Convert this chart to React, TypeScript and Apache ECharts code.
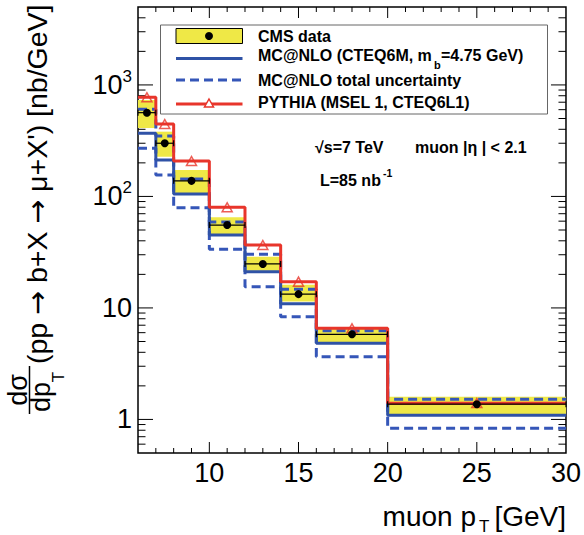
import React, { useEffect, useRef } from "react";
import * as echarts from "echarts";

// ---- data ----
const binEdges = [6, 7, 8, 10, 12, 14, 16, 20, 30];
const binCenters = [6.5, 7.5, 9, 11, 13, 15, 18, 25];
const cmsData = [564, 300, 138, 55.4, 24.8, 13.3, 5.8, 1.37];
const cmsStatErr = [10, 6, 3, 1.2, 0.6, 0.35, 0.15, 0.08];
const cmsSystLow = [411, 227, 107, 46, 21.6, 11.4, 4.88, 1.12];
const cmsSystHigh = [733, 381, 173, 65, 28.8, 16.1, 6.57, 1.6];
const mcnlo = [368, 212, 105, 45, 21.1, 10.9, 4.82, 1.09];
const mcnloUp = [605, 348, 143, 59, 30.3, 14.7, 6.25, 1.52];
const mcnloDown = [270, 156, 79, 33.6, 15.5, 8.35, 3.65, 0.834];
const pythia = [775, 446, 208, 80, 36.7, 17.2, 6.57, 1.4];

// ---- axis ticks ----
const xTickLabels = [10, 15, 20, 25, 30];
const xMajorTicks = [10, 15, 20, 25];
const xMinorTicks = [7, 8, 9, 11, 12, 13, 14, 16, 17, 18, 19, 21, 22, 23, 24, 26, 27, 28, 29];
const yMajorTicks = [1, 10, 100, 1000];
const yMinorTicks = [
  0.6, 0.7, 0.8, 0.9,
  2, 3, 4, 5, 6, 7, 8, 9,
  20, 30, 40, 50, 60, 70, 80, 90,
  200, 300, 400, 500, 600, 700, 800, 900,
  2000, 3000, 4000,
];

const X_MIN = 6;
const X_MAX = 30;
const Y_MIN = 0.5;
const Y_MAX = 5000;

const FONT = "'Liberation Sans', Arial, Helvetica, sans-serif";
const YELLOW = "#efe846";
const BLUE = "#2f52a6";
const BLUE_DASH = "#3556b8";
const RED = "#e8352b";
const LEG_FS = 16;

function stepData(values: number[]) {
  return binEdges.map((e, i) => [e, values[Math.min(i, values.length - 1)]]);
}

export default function App() {
  const ref = useRef<HTMLDivElement>(null);

  useEffect(() => {
    if (!ref.current) return;
    const chart = echarts.init(ref.current, undefined, { renderer: "svg" });

    const line = (x1: number, y1: number, x2: number, y2: number, w = 1) => ({
      type: "line",
      shape: { x1, y1, x2, y2 },
      style: { stroke: "#000", lineWidth: w },
    });

    const txt = (
      x: number,
      y: number,
      text: string,
      fontSize: number,
      opts: { bold?: boolean; align?: string; rotation?: number; family?: string } = {}
    ) => ({
      type: "text",
      z: 102,
      x,
      y,
      rotation: opts.rotation || 0,
      style: {
        text,
        fontSize,
        fontWeight: opts.bold ? "bold" : "normal",
        fontFamily: opts.family || FONT,
        fill: "#000",
        align: opts.align || "left",
        verticalAlign: "middle",
      },
    });

    const option: any = {
      animation: false,
      backgroundColor: "#fff",
      grid: {
        left: 138,
        right: 17,
        top: 7,
        bottom: 82,
        show: true,
        borderColor: "#000",
        borderWidth: 1.5,
        backgroundColor: "transparent",
      },
      xAxis: {
        type: "value",
        min: X_MIN,
        max: X_MAX,
        interval: 1,
        axisLine: { show: false },
        axisTick: { show: false },
        splitLine: { show: false },
        axisLabel: {
          margin: 6,
          color: "#000",
          fontSize: 27,
          fontFamily: FONT,
          formatter: (v: number) => {
            const r = Math.round(v);
            return Math.abs(v - r) < 1e-6 && xTickLabels.includes(r) ? String(r) : "";
          },
        },
      },
      yAxis: {
        type: "log",
        logBase: 10,
        min: Y_MIN,
        max: Y_MAX,
        axisLine: { show: false },
        axisTick: { show: false },
        splitLine: { show: false },
        axisLabel: {
          margin: 6,
          color: "#000",
          fontSize: 27,
          fontFamily: FONT,
          lineHeight: 34,
          showMinLabel: false,
          showMaxLabel: false,
          formatter: (v: number) => {
            const l = Math.log10(v);
            const e = Math.round(l);
            if (Math.abs(l - e) > 1e-6 || !yMajorTicks.includes(Math.pow(10, e))) return "";
            if (e === 0) return "1";
            if (e === 1) return "10";
            return `10{sup|${e}}`;
          },
          rich: {
            sup: { fontSize: 17, fontFamily: FONT, color: "#000", verticalAlign: "top", lineHeight: 17 },
          },
        },
      },
      series: [
        // frame ticks (ROOT style, inside, on all four sides)
        {
          type: "custom",
          data: [[X_MIN, 1]],
          clip: false,
          z: 1,
          renderItem: (_params: any, api: any) => {
            const [xl, yb] = api.coord([X_MIN, Y_MIN]);
            const [xr, yt] = api.coord([X_MAX, Y_MAX]);
            const children: any[] = [];
            xMajorTicks.forEach((v) => {
              const x = api.coord([v, 1])[0];
              children.push(line(x, yb, x, yb - 11));
              children.push(line(x, yt, x, yt + 11));
            });
            xMinorTicks.forEach((v) => {
              const x = api.coord([v, 1])[0];
              children.push(line(x, yb, x, yb - 5));
              children.push(line(x, yt, x, yt + 5));
            });
            yMajorTicks.forEach((v) => {
              const y = api.coord([X_MIN, v])[1];
              children.push(line(xl, y, xl + 15, y));
              children.push(line(xr, y, xr - 15, y));
            });
            yMinorTicks.forEach((v) => {
              const y = api.coord([X_MIN, v])[1];
              children.push(line(xl, y, xl + 7.5, y));
              children.push(line(xr, y, xr - 7.5, y));
            });
            return { type: "group", children };
          },
        },
        // CMS systematic band (yellow boxes)
        {
          type: "custom",
          z: 2,
          data: binCenters.map((_, i) => [binEdges[i], binEdges[i + 1], cmsSystLow[i], cmsSystHigh[i]]),
          encode: { x: [0, 1], y: [2, 3] },
          renderItem: (_params: any, api: any) => {
            const p0 = api.coord([api.value(0), api.value(3)]);
            const p1 = api.coord([api.value(1), api.value(2)]);
            return {
              type: "rect",
              shape: { x: p0[0], y: p0[1], width: p1[0] - p0[0], height: p1[1] - p0[1] },
              style: { fill: YELLOW },
            };
          },
        },
        {
          name: "MC@NLO total uncertainty",
          type: "line",
          step: "end",
          z: 3,
          showSymbol: false,
          data: stepData(mcnloUp),
          lineStyle: { color: BLUE_DASH, width: 3, type: [9, 5] },
        },
        {
          name: "MC@NLO total uncertainty low",
          type: "line",
          step: "end",
          z: 3,
          showSymbol: false,
          data: stepData(mcnloDown),
          lineStyle: { color: BLUE_DASH, width: 3, type: [9, 5] },
        },
        {
          name: "MC@NLO",
          type: "line",
          step: "end",
          z: 4,
          showSymbol: false,
          data: stepData(mcnlo),
          lineStyle: { color: BLUE, width: 3 },
        },
        {
          name: "PYTHIA",
          type: "line",
          step: "end",
          z: 5,
          showSymbol: false,
          data: stepData(pythia),
          lineStyle: { color: RED, width: 3 },
        },
        {
          name: "PYTHIA markers",
          type: "scatter",
          z: 6,
          symbol: "triangle",
          symbolSize: [10, 9],
          data: binCenters.map((c, i) => [c, pythia[i]]),
          itemStyle: { color: "rgba(255,255,255,0)", borderColor: RED, borderWidth: 1.5 },
        },
        // CMS data points with error bars
        {
          name: "CMS data",
          type: "custom",
          z: 7,
          data: binCenters.map((c, i) => [
            binEdges[i],
            binEdges[i + 1],
            c,
            cmsData[i],
            cmsData[i] - cmsStatErr[i],
            cmsData[i] + cmsStatErr[i],
          ]),
          encode: { x: [0, 1], y: 3 },
          renderItem: (_params: any, api: any) => {
            const xlo = api.value(0);
            const xhi = api.value(1);
            const xc = api.value(2);
            const y = api.value(3);
            const pl = api.coord([xlo, y]);
            const pr = api.coord([xhi, y]);
            const pc = api.coord([xc, y]);
            const pyl = api.coord([xc, api.value(4)]);
            const pyh = api.coord([xc, api.value(5)]);
            const st = { stroke: "#000", lineWidth: 1.2 };
            return {
              type: "group",
              children: [
                { type: "line", shape: { x1: pl[0], y1: pl[1], x2: pr[0], y2: pr[1] }, style: st },
                { type: "line", shape: { x1: pl[0], y1: pl[1] - 3, x2: pl[0], y2: pl[1] + 3 }, style: st },
                { type: "line", shape: { x1: pr[0], y1: pr[1] - 3, x2: pr[0], y2: pr[1] + 3 }, style: st },
                { type: "line", shape: { x1: pc[0], y1: pyl[1], x2: pc[0], y2: pyh[1] }, style: { stroke: "#000", lineWidth: 1.5 } },
                { type: "circle", shape: { cx: pc[0], cy: pc[1], r: 4 }, style: { fill: "#000" } },
              ],
            };
          },
        },
      ],
      graphic: [
        // legend box
        {
          type: "rect",
          z: 100,
          shape: { x: 160.5, y: 25, width: 387, height: 89 },
          style: { fill: "#fff", stroke: "#666", lineWidth: 1 },
        },
        {
          type: "rect",
          z: 101,
          shape: { x: 176, y: 28.5, width: 66.5, height: 15 },
          style: { fill: YELLOW, stroke: "#000", lineWidth: 1 },
        },
        { type: "circle", z: 102, shape: { cx: 209, cy: 36, r: 4 }, style: { fill: "#000" } },
        {
          type: "line",
          z: 101,
          shape: { x1: 176, y1: 58.5, x2: 242.5, y2: 58.5 },
          style: { stroke: BLUE, lineWidth: 3 },
        },
        {
          type: "line",
          z: 101,
          shape: { x1: 176, y1: 80, x2: 242.5, y2: 80 },
          style: { stroke: BLUE_DASH, lineWidth: 3, lineDash: [9, 5] },
        },
        {
          type: "line",
          z: 101,
          shape: { x1: 176, y1: 104, x2: 242.5, y2: 104 },
          style: { stroke: RED, lineWidth: 3 },
        },
        {
          type: "polygon",
          z: 102,
          shape: { points: [[209, 99], [213.5, 107], [204.5, 107]] },
          style: { fill: "#fff", stroke: RED, lineWidth: 1.5 },
        },
        txt(258, 36, "CMS data", LEG_FS, { bold: true }),
        txt(258, 55, "MC@NLO (CTEQ6M, m", LEG_FS, { bold: true }),
        txt(434, 65, "b", 11, { bold: true }),
        txt(441, 55, "=4.75 GeV)", LEG_FS, { bold: true }),
        txt(258, 80, "MC@NLO total uncertainty", LEG_FS, { bold: true }),
        txt(258, 102, "PYTHIA (MSEL 1, CTEQ6L1)", LEG_FS, { bold: true }),
        // annotations
        txt(315, 147, "√s=7 TeV", LEG_FS, { bold: true }),
        txt(415, 147, "muon |η | < 2.1", LEG_FS, { bold: true }),
        txt(320, 180, "L=85 nb", LEG_FS, { bold: true }),
        txt(383, 173, "-1", 10.5, { bold: true }),
        // x axis title
        txt(476, 516, "muon p", 28, { align: "right" }),
        txt(479, 526, "T", 17),
        txt(566, 516, "[GeV]", 28, { align: "right" }),
        // y axis title (rotated)
        {
          type: "text",
          x: 37,
          y: 364,
          rotation: Math.PI / 2,
          style: {
            text: "(pp {a|→} b+X {a|→} μ+X') [nb/GeV]",
            fontSize: 28.5,
            fontFamily: FONT,
            fill: "#000",
            align: "left",
            verticalAlign: "middle",
            rich: { a: { fontSize: 28.5, fontFamily: "'DejaVu Sans', sans-serif", fill: "#000" } },
          },
        },
        txt(18, 390, "dσ", 27, { align: "center", rotation: Math.PI / 2 }),
        {
          type: "line",
          shape: { x1: 29.5, y1: 366, x2: 29.5, y2: 414 },
          style: { stroke: "#000", lineWidth: 1.5 },
        },
        txt(41, 397, "dp", 27, { align: "center", rotation: Math.PI / 2 }),
        txt(58, 377, "T", 17, { align: "center", rotation: Math.PI / 2 }),
      ],
    };

    chart.setOption(option);
    return () => chart.dispose();
  }, []);

  return (
    <div
      ref={ref}
      style={{ width: 584, height: 535, position: "fixed", left: 0, top: 0, background: "#fff" }}
    />
  );
}
